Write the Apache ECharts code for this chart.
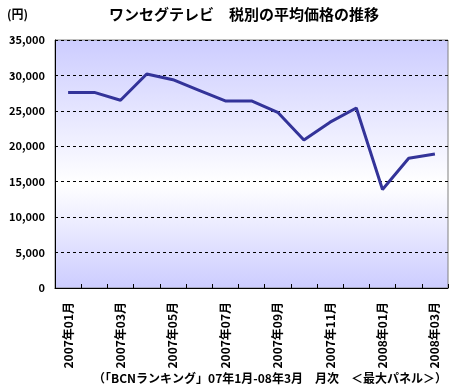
<!DOCTYPE html>
<html><head><meta charset="utf-8">
<script src="https://cdn.jsdelivr.net/npm/echarts@6/dist/echarts.min.js"></script>
<style>html,body{margin:0;padding:0;background:#fff}#c{width:457px;height:391px}</style>
</head><body><div id="c"></div>
<script>
const categories = ['2007年01月','2007年02月','2007年03月','2007年04月','2007年05月','2007年06月','2007年07月','2007年08月','2007年09月','2007年10月','2007年11月','2007年12月','2008年01月','2008年02月','2008年03月'];
const prices = [27600,27600,26500,30200,29400,27900,26400,26400,24800,20900,23400,25400,13900,18300,18900];
const yTicks = {min:0, max:35000, interval:5000};
const titleText = 'ワンセグテレビ　税別の平均価格の推移';
const unitText = '(円)';
const footerText = '（「BCNランキング」07年1月-08年3月　月次　＜最大パネル＞）';

const FONT = '"Noto Sans CJK JP", sans-serif';
const chart = echarts.init(document.getElementById('c'), null, {renderer:'canvas'});
chart.setOption({
  animation:false,
  grid:{left:55, right:9, top:40, bottom:103, show:true, borderColor:'#808080', borderWidth:1,
    backgroundColor:new echarts.graphic.LinearGradient(0,0,0,1,[
      {offset:0,color:'#ccccff'},{offset:0.58,color:'#ffffff'},{offset:1,color:'#ccccff'}])},
  graphic:[
    {type:'text', left:7, top:8, style:{text:unitText, font:'bold 12px '+FONT, fill:'#000'}},
    {type:'text', x:244, y:7, style:{text:titleText, font:'bold 15px '+FONT, fill:'#000', textAlign:'center'}},
    {type:'text', x:270, y:372, style:{text:footerText, font:'bold 12px '+FONT, fill:'#000', textAlign:'center'}}
  ],
  xAxis:{type:'category', data:categories, boundaryGap:true,
    axisLine:{show:true, lineStyle:{color:'#000', width:1}},
    axisTick:{show:true, inside:true, length:4, interval:0, lineStyle:{color:'#000'}},
    axisLabel:{rotate:90, interval:1, margin:14, color:'#000', fontFamily:FONT, fontWeight:'bold', fontSize:12},
    splitLine:{show:false}},
  yAxis:{type:'value', min:yTicks.min, max:yTicks.max, interval:yTicks.interval,
    axisLine:{show:true, lineStyle:{color:'#000', width:1}},
    axisTick:{show:false},
    axisLabel:{color:'#000', fontFamily:FONT, fontWeight:'bold', fontSize:11, margin:10,
      formatter:v=>v.toLocaleString('en-US')},
    splitLine:{show:true, lineStyle:{color:'#000', type:[3,3], width:1}}},
  series:[{type:'line', data:prices, symbol:'none', lineStyle:{color:'#333399', width:3}}]
});
</script></body></html>
